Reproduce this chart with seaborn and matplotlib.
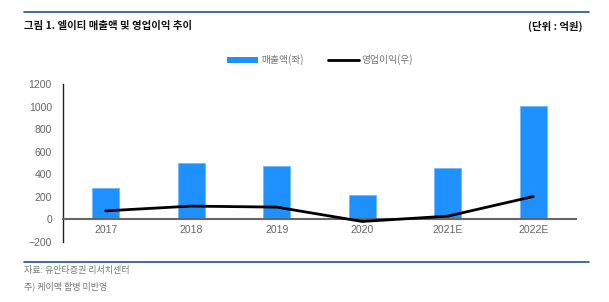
import matplotlib
matplotlib.use("Agg")
import matplotlib.pyplot as plt
import seaborn as sns
import pandas as pd
from matplotlib.patches import Patch
from matplotlib.lines import Line2D

years = ["2017", "2018", "2019", "2020", "2021E", "2022E"]
sales = [282, 498, 474, 213, 456, 1009]
op_income = [76, 118, 109, -18, 29, 203]
yticks = [-200, 0, 200, 400, 600, 800, 1000, 1200]

sns.set_theme(style="white")
plt.rcParams['font.family'] = ['Noto Sans CJK KR', 'DejaVu Sans']

df = pd.DataFrame({"year": years, "sales": sales, "op": op_income})

W, H = 609, 302
fig = plt.figure(figsize=(W / 100, H / 100), dpi=100)
ax = fig.add_axes([63 / W, 1 - 242 / H, (576 - 63) / W, (242 - 84) / H])

sns.barplot(data=df, x="year", y="sales", ax=ax, color="#1E90FF",
            width=0.31, saturation=1, edgecolor="#6FB8FF", linewidth=0.6)
ax.plot(range(len(years)), op_income, color="black", lw=2, zorder=5)

ax.set_xlim(-0.5, len(years) - 0.5)
ax.set_ylim(-200, 1200)
ax.set_yticks(yticks)
ax.set_yticklabels([str(v) if v >= 0 else "\u2212" + str(-v) for v in yticks])
ax.set_xlabel("")
ax.set_ylabel("")
for s in ["top", "right"]:
    ax.spines[s].set_visible(False)
ax.spines["bottom"].set_position(("data", 0))
ax.spines["bottom"].set_color("#666666")
ax.spines["bottom"].set_linewidth(1.5)
ax.spines["bottom"].set_zorder(4)
ax.spines["left"].set_color("#222222")
ax.spines["left"].set_linewidth(1)
ax.tick_params(axis="y", length=0, pad=8, labelsize=7.5, labelcolor="#666666")
ax.tick_params(axis="x", length=0, labelsize=7.5, labelcolor="#666666", pad=4)
for lbl in ax.get_xticklabels() + ax.get_yticklabels():
    lbl.set_family(['Liberation Sans', 'DejaVu Sans'])

# rules
fig.add_artist(Line2D([24 / W, 589 / W], [1 - 12 / H, 1 - 12 / H], color="#1F5496", lw=1.2))
fig.add_artist(Line2D([24 / W, 589 / W], [1 - 262 / H, 1 - 262 / H], color="#1F5496", lw=1.2))

fig.text(24 / W, 1 - 26 / H, "그림 1. 엘이티 매출액 및 영업이익 추이", fontsize=7.5,
         fontweight="bold", color="#111111", va="center", ha="left")
fig.text(583 / W, 1 - 26 / H, "(단위 : 억원)", fontsize=7.5, fontweight="bold",
         color="#111111", va="center", ha="right")

handles = [Patch(facecolor="#1E90FF", edgecolor="none"),
           Line2D([0], [0], color="black", lw=2)]
leg = fig.legend(handles, ["매출액(좌)", "영업이익(우)"], loc="center",
                 bbox_to_anchor=(320 / W, 1 - 60 / H), ncol=2, frameon=False,
                 fontsize=7, handlelength=3.2, handleheight=0.5, handletextpad=0.3,
                 columnspacing=2.5)
for t in leg.get_texts():
    t.set_color("#777777")

fig.text(24 / W, 1 - 271 / H, "자료: 유안타증권 리서치센터", fontsize=6.5,
         color="#777777", va="center", ha="left")
fig.text(24 / W, 1 - 286 / H, "주) 케이맥 합병 미반영", fontsize=6.5,
         color="#777777", va="center", ha="left")

fig.savefig("out.png", dpi=100)
